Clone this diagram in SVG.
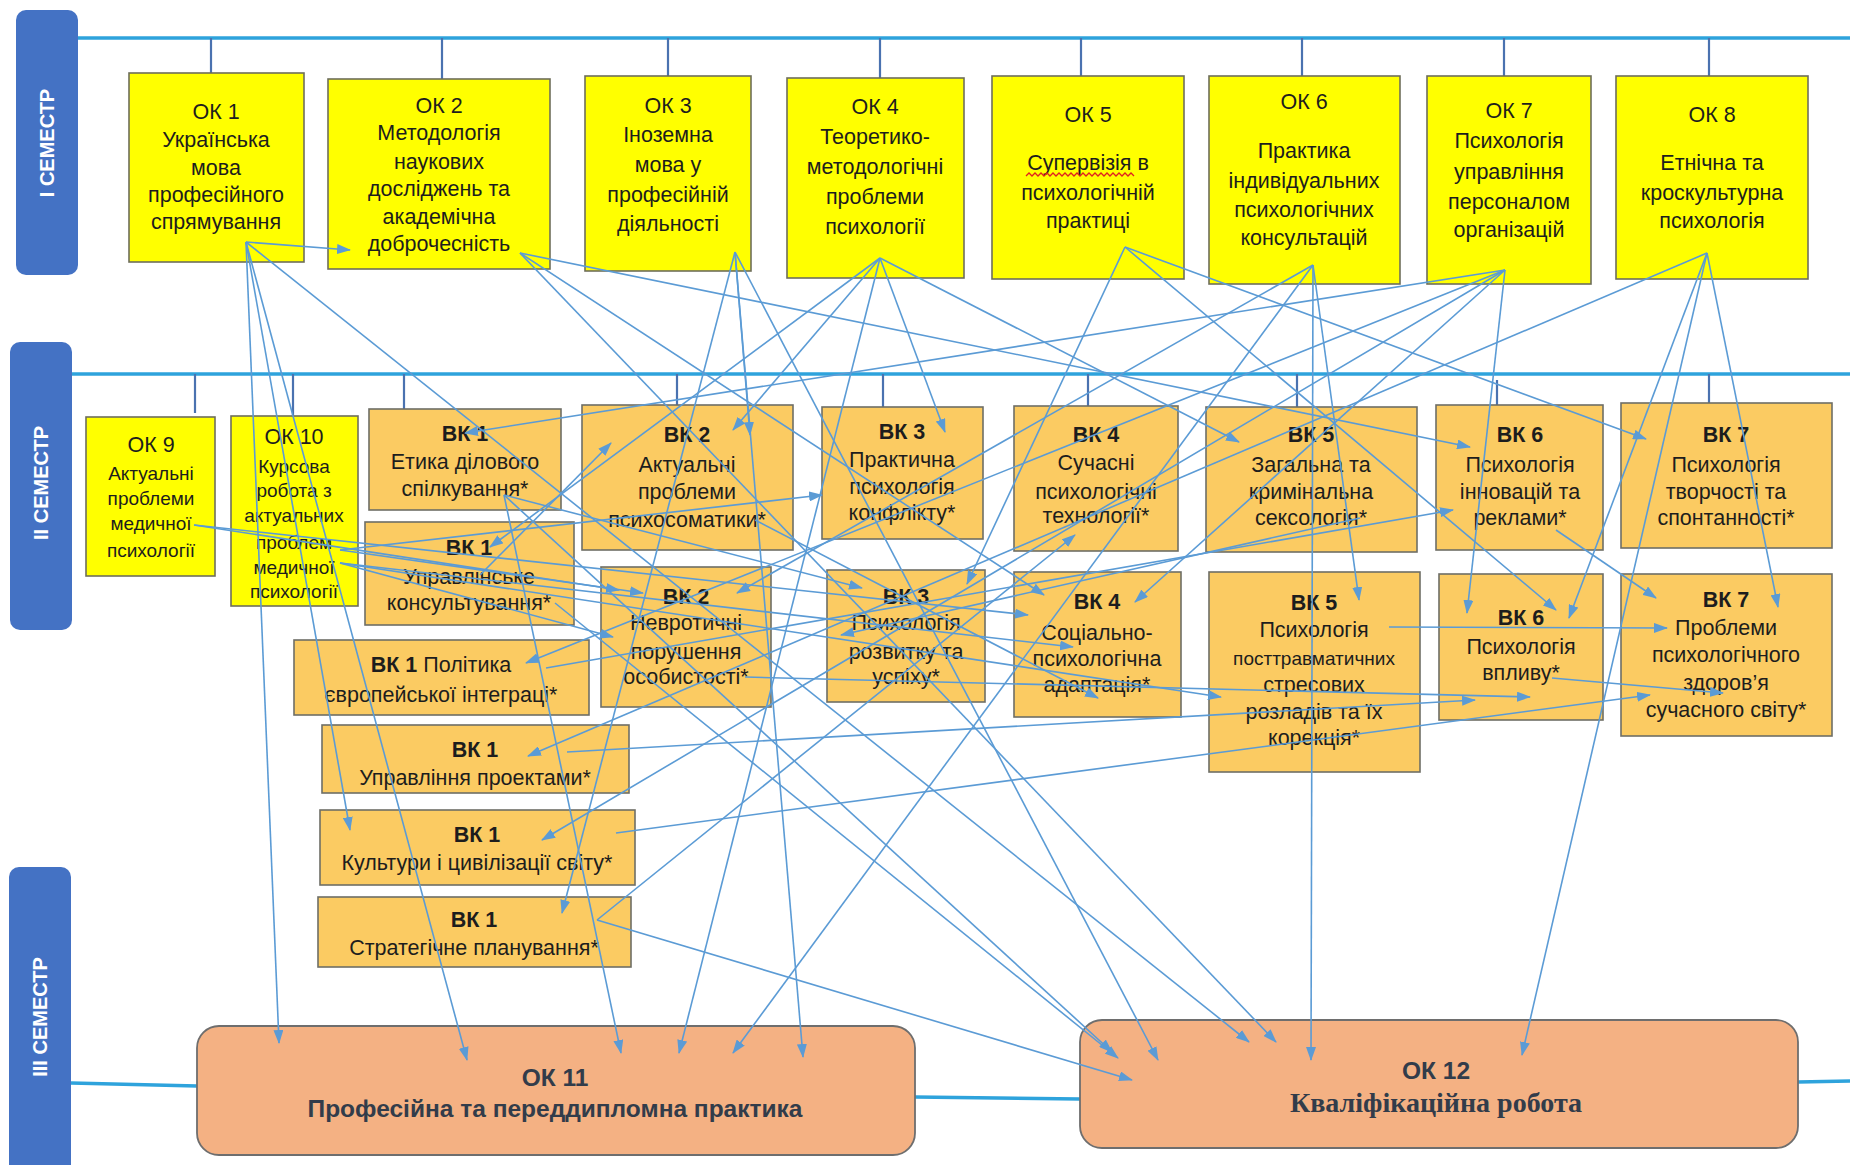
<svg xmlns="http://www.w3.org/2000/svg" width="1850" height="1165" viewBox="0 0 1850 1165">
<defs>
<marker id="ah" markerUnits="userSpaceOnUse" markerWidth="14" markerHeight="10" refX="13" refY="5" orient="auto"><path d="M0,0 L14,5 L0,10 z" fill="#5B9BD5"/></marker>
</defs>
<style>
.sem{fill:#4472C4}
.semt{fill:#fff;font:bold 20px "Liberation Sans",Arial,sans-serif;text-anchor:middle;dominant-baseline:central}
.band{stroke:#2EA3DC;stroke-width:3.5;fill:none}
.tick{stroke:#4A72B0;stroke-width:2.2}
.ok{fill:#FFFF00;stroke:#6E6E5A;stroke-width:1.6}
.vk{fill:#FBCB62;stroke:#6E6E66;stroke-width:1.6}
.fin{fill:#F4B183;stroke:#6E6E6E;stroke-width:1.8}
text{font-family:"Liberation Sans",Arial,sans-serif;fill:#1d1d1d;text-anchor:middle;dominant-baseline:central}
.t{font-size:21.5px}
.s{font-size:19px}
.b{font-weight:bold}
.conn line{stroke:#5B9BD5;stroke-width:1.6;marker-end:url(#ah)}
.fint{font-size:24.5px;font-weight:bold;fill:#323c4a}
.sf{font-family:"Liberation Serif","Times New Roman",serif;font-size:28px;font-weight:bold;fill:#323c4a}
</style>
<rect width="1850" height="1165" fill="#fff"/>

<g id="semesters">
<rect class="sem" x="16" y="10" width="62" height="265" rx="10"/>
<text class="semt" transform="translate(47,143) rotate(-90)">I СЕМЕСТР</text>
<rect class="sem" x="10" y="342" width="62" height="288" rx="10"/>
<text class="semt" transform="translate(41,483) rotate(-90)">II СЕМЕСТР</text>
<rect class="sem" x="9" y="867" width="62" height="320" rx="10"/>
<text class="semt" transform="translate(40,1017) rotate(-90)">III СЕМЕСТР</text>
<line class="band" x1="78" y1="38" x2="1850" y2="38"/>
<line class="band" x1="72" y1="374" x2="1850" y2="374"/>
<line class="band" x1="71" y1="1083" x2="197" y2="1086"/>
<line class="band" x1="915" y1="1097" x2="1080" y2="1099"/>
<line class="band" x1="1798" y1="1082" x2="1850" y2="1081"/>
<line class="tick" x1="211" y1="38" x2="211" y2="73"/>
<line class="tick" x1="442" y1="38" x2="442" y2="79"/>
<line class="tick" x1="668" y1="38" x2="668" y2="76"/>
<line class="tick" x1="880" y1="38" x2="880" y2="78"/>
<line class="tick" x1="1081" y1="38" x2="1081" y2="76"/>
<line class="tick" x1="1302" y1="38" x2="1302" y2="76"/>
<line class="tick" x1="1504" y1="38" x2="1504" y2="76"/>
<line class="tick" x1="1709" y1="38" x2="1709" y2="76"/>
<line class="tick" x1="195" y1="374" x2="195" y2="413"/>
<line class="tick" x1="293" y1="374" x2="293" y2="416"/>
<line class="tick" x1="404" y1="374" x2="404" y2="409"/>
<line class="tick" x1="677" y1="374" x2="677" y2="405"/>
<line class="tick" x1="883" y1="374" x2="883" y2="407"/>
<line class="tick" x1="1088" y1="374" x2="1088" y2="406"/>
<line class="tick" x1="1297" y1="374" x2="1297" y2="407"/>
<line class="tick" x1="1497" y1="380" x2="1497" y2="405"/>
<line class="tick" x1="1709" y1="374" x2="1709" y2="403"/>
</g>

<g id="ok1"><rect class="ok" x="129" y="73" width="175" height="189"/>
<text class="t" x="216" y="112">ОК 1</text><text class="t" x="216" y="140">Українська</text><text class="t" x="216" y="168">мова</text><text class="t" x="216" y="195">професійного</text><text class="t" x="216" y="222">спрямування</text></g>
<g id="ok2"><rect class="ok" x="328" y="79" width="222" height="190"/>
<text class="t" x="439" y="106">ОК 2</text><text class="t" x="439" y="133">Методологія</text><text class="t" x="439" y="162">наукових</text><text class="t" x="439" y="189">досліджень та</text><text class="t" x="439" y="217">академічна</text><text class="t" x="439" y="244">доброчесність</text></g>
<g id="ok3"><rect class="ok" x="585" y="76" width="166" height="195"/>
<text class="t" x="668" y="106">ОК 3</text><text class="t" x="668" y="135">Іноземна</text><text class="t" x="668" y="165">мова у</text><text class="t" x="668" y="195">професійній</text><text class="t" x="668" y="224">діяльності</text></g>
<g id="ok4"><rect class="ok" x="787" y="78" width="177" height="200"/>
<text class="t" x="875" y="107">ОК 4</text><text class="t" x="875" y="137">Теоретико-</text><text class="t" x="875" y="167">методологічні</text><text class="t" x="875" y="197">проблеми</text><text class="t" x="875" y="227">психології</text></g>
<g id="ok5"><rect class="ok" x="992" y="76" width="192" height="203"/>
<text class="t" x="1088" y="115">ОК 5</text><text class="t" x="1088" y="163">Супервізія в</text><text class="t" x="1088" y="193">психологічній</text><text class="t" x="1088" y="221">практиці</text>
<path d="M1026,176 l3,-3 l3,3 l3,-3 l3,3 l3,-3 l3,3 l3,-3 l3,3 l3,-3 l3,3 l3,-3 l3,3 l3,-3 l3,3 l3,-3 l3,3 l3,-3 l3,3 l3,-3 l3,3 l3,-3 l3,3 l3,-3 l3,3 l3,-3 l3,3 l3,-3 l3,3 l3,-3 l3,3 l3,-3 l3,3 l3,-3 l3,3 l3,-3 l3,3" fill="none" stroke="#E02020" stroke-width="1.3"/></g>
<g id="ok6"><rect class="ok" x="1209" y="76" width="191" height="208"/>
<text class="t" x="1304" y="102">ОК 6</text><text class="t" x="1304" y="151">Практика</text><text class="t" x="1304" y="181">індивідуальних</text><text class="t" x="1304" y="210">психологічних</text><text class="t" x="1304" y="238">консультацій</text></g>
<g id="ok7"><rect class="ok" x="1427" y="76" width="164" height="208"/>
<text class="t" x="1509" y="111">ОК 7</text><text class="t" x="1509" y="141">Психологія</text><text class="t" x="1509" y="172">управління</text><text class="t" x="1509" y="202">персоналом</text><text class="t" x="1509" y="230">організацій</text></g>
<g id="ok8"><rect class="ok" x="1616" y="76" width="192" height="203"/>
<text class="t" x="1712" y="115">ОК 8</text><text class="t" x="1712" y="163">Етнічна та</text><text class="t" x="1712" y="193">кроскультурна</text><text class="t" x="1712" y="221">психологія</text></g>

<g id="ok9"><rect class="ok" x="86" y="417" width="129" height="159"/>
<text class="t" x="151" y="445">ОК 9</text><text class="s" x="151" y="473">Актуальні</text><text class="s" x="151" y="498">проблеми</text><text class="s" x="151" y="523">медичної</text><text class="s" x="151" y="550">психології</text></g>
<g id="ok10"><rect class="ok" x="231" y="416" width="127" height="190"/>
<text class="t" x="294" y="437">ОК 10</text><text class="s" x="294" y="466">Курсова</text><text class="s" x="294" y="490">робота з</text><text class="s" x="294" y="515">актуальних</text><text class="s" x="294" y="542">проблем</text><text class="s" x="294" y="567">медичної</text><text class="s" x="294" y="591">психології</text></g>

<g id="vk1-etyka"><rect class="vk" x="369" y="409" width="192" height="101"/>
<text class="t b" x="465" y="434">ВК 1</text><text class="t" x="465" y="462">Етика ділового</text><text class="t" x="465" y="489">спілкування*</text></g>
<g id="vk1-upr-kons"><rect class="vk" x="365" y="522" width="209" height="103"/>
<text class="t b" x="469" y="548">ВК 1</text><text class="t" x="469" y="577">Управлінське</text><text class="t" x="469" y="603">консультування*</text></g>
<g id="vk1-polityka"><rect class="vk" x="294" y="640" width="295" height="75"/>
<text class="t" x="441" y="665"><tspan class="b">ВК 1</tspan> Політика</text><text class="t" x="441" y="695">європейської інтеграці*</text></g>
<g id="vk1-proekty"><rect class="vk" x="322" y="725" width="307" height="68"/>
<text class="t b" x="475" y="750">ВК 1</text><text class="t" x="475" y="778">Управління проектами*</text></g>
<g id="vk1-kultury"><rect class="vk" x="320" y="810" width="315" height="75"/>
<text class="t b" x="477" y="835">ВК 1</text><text class="t" x="477" y="863">Культури і цивілізації світу*</text></g>
<g id="vk1-strat"><rect class="vk" x="318" y="897" width="313" height="70"/>
<text class="t b" x="474" y="920">ВК 1</text><text class="t" x="474" y="948">Стратегічне планування*</text></g>

<g id="vk2-psykhosom"><rect class="vk" x="582" y="405" width="211" height="145"/>
<text class="t b" x="687" y="435">ВК 2</text><text class="t" x="687" y="465">Актуальні</text><text class="t" x="687" y="492">проблеми</text><text class="t" x="687" y="520">психосоматики*</text></g>
<g id="vk3-konflikt"><rect class="vk" x="822" y="407" width="161" height="132"/>
<text class="t b" x="902" y="432">ВК 3</text><text class="t" x="902" y="460">Практична</text><text class="t" x="902" y="487">психологія</text><text class="t" x="902" y="513">конфлікту*</text></g>
<g id="vk4-tekhnol"><rect class="vk" x="1014" y="406" width="164" height="145"/>
<text class="t b" x="1096" y="435">ВК 4</text><text class="t" x="1096" y="463">Сучасні</text><text class="t" x="1096" y="492">психологічні</text><text class="t" x="1096" y="516">технології*</text></g>
<g id="vk5-seksol"><rect class="vk" x="1206" y="407" width="211" height="145"/>
<text class="t b" x="1311" y="435">ВК 5</text><text class="t" x="1311" y="465">Загальна та</text><text class="t" x="1311" y="492">кримінальна</text><text class="t" x="1311" y="518">сексологія*</text></g>
<g id="vk6-innov"><rect class="vk" x="1436" y="405" width="167" height="145"/>
<text class="t b" x="1520" y="435">ВК 6</text><text class="t" x="1520" y="465">Психологія</text><text class="t" x="1520" y="492">інновацій та</text><text class="t" x="1520" y="518">реклами*</text></g>
<g id="vk7-tvorch"><rect class="vk" x="1621" y="403" width="211" height="145"/>
<text class="t b" x="1726" y="435">ВК 7</text><text class="t" x="1726" y="465">Психологія</text><text class="t" x="1726" y="492">творчості та</text><text class="t" x="1726" y="518">спонтанності*</text></g>

<g id="vk2-nevrot"><rect class="vk" x="601" y="567" width="170" height="140"/>
<text class="t b" x="686" y="597">ВК 2</text><text class="t" x="686" y="623">Невротичні</text><text class="t" x="686" y="652">порушення</text><text class="t" x="686" y="677">особистості*</text></g>
<g id="vk3-rozvytok"><rect class="vk" x="827" y="570" width="158" height="132"/>
<text class="t b" x="906" y="597">ВК 3</text><text class="t" x="906" y="623">Психологія</text><text class="t" x="906" y="652">розвитку та</text><text class="t" x="906" y="677">успіху*</text></g>
<g id="vk4-adapt"><rect class="vk" x="1014" y="572" width="167" height="145"/>
<text class="t b" x="1097" y="602">ВК 4</text><text class="t" x="1097" y="633">Соціально-</text><text class="t" x="1097" y="659">психологічна</text><text class="t" x="1097" y="685">адаптація*</text></g>
<g id="vk5-posttr"><rect class="vk" x="1209" y="572" width="211" height="200"/>
<text class="t b" x="1314" y="603">ВК 5</text><text class="t" x="1314" y="630">Психологія</text><text x="1314" y="658" font-size="19px">посттравматичних</text><text class="t" x="1314" y="685">стресових</text><text class="t" x="1314" y="712">розладів та їх</text><text class="t" x="1314" y="738">корекція*</text></g>
<g id="vk6-vplyv"><rect class="vk" x="1439" y="574" width="164" height="146"/>
<text class="t b" x="1521" y="618">ВК 6</text><text class="t" x="1521" y="647">Психологія</text><text class="t" x="1521" y="673">впливу*</text></g>
<g id="vk7-zdorov"><rect class="vk" x="1621" y="574" width="211" height="162"/>
<text class="t b" x="1726" y="600">ВК 7</text><text class="t" x="1726" y="628">Проблеми</text><text class="t" x="1726" y="655">психологічного</text><text class="t" x="1726" y="683">здоров’я</text><text class="t" x="1726" y="710">сучасного світу*</text></g>

<g id="ok11"><rect class="fin" x="197" y="1026" width="718" height="129" rx="22"/>
<text class="fint" x="555" y="1077">ОК 11</text><text class="fint" x="555" y="1108">Професійна та переддипломна практика</text></g>
<g id="ok12"><rect class="fin" x="1080" y="1020" width="718" height="128" rx="22"/>
<text class="fint" x="1436" y="1070">ОК 12</text><text class="sf" x="1436" y="1102">Кваліфікаційна робота</text></g>

<g id="connectors" class="conn">
<line x1="246" y1="242" x2="350" y2="250"/>
<line x1="246" y1="242" x2="279" y2="1043"/>
<line x1="246" y1="242" x2="467" y2="1060"/>
<line x1="246" y1="242" x2="350" y2="830"/>
<line x1="246" y1="242" x2="1249" y2="1042"/>
<line x1="520" y1="253" x2="1470" y2="447"/>
<line x1="520" y1="253" x2="1276" y2="1042"/>
<line x1="520" y1="253" x2="1044" y2="595"/>
<line x1="735" y1="252" x2="750" y2="435"/>
<line x1="735" y1="252" x2="803" y2="1057"/>
<line x1="735" y1="252" x2="1158" y2="1060"/>
<line x1="735" y1="252" x2="562" y2="913"/>
<line x1="880" y1="258" x2="733" y2="430"/>
<line x1="880" y1="258" x2="490" y2="547"/>
<line x1="880" y1="258" x2="945" y2="432"/>
<line x1="880" y1="258" x2="1239" y2="442"/>
<line x1="880" y1="258" x2="679" y2="1053"/>
<line x1="1125" y1="247" x2="1646" y2="439"/>
<line x1="1125" y1="247" x2="967" y2="584"/>
<line x1="1125" y1="247" x2="1556" y2="610"/>
<line x1="1313" y1="265" x2="1359" y2="600"/>
<line x1="1313" y1="265" x2="1311" y2="1060"/>
<line x1="1313" y1="265" x2="733" y2="1053"/>
<line x1="1313" y1="265" x2="737" y2="593"/>
<line x1="1505" y1="270" x2="465" y2="433"/>
<line x1="1505" y1="270" x2="526" y2="663"/>
<line x1="1505" y1="270" x2="1467" y2="613"/>
<line x1="1505" y1="270" x2="542" y2="840"/>
<line x1="1505" y1="270" x2="1135" y2="602"/>
<line x1="1707" y1="253" x2="528" y2="756"/>
<line x1="1707" y1="253" x2="1522" y2="1055"/>
<line x1="1707" y1="253" x2="1778" y2="607"/>
<line x1="1707" y1="253" x2="1569" y2="618"/>
<line x1="194" y1="525" x2="619" y2="590"/>
<line x1="194" y1="525" x2="1028" y2="615"/>
<line x1="340" y1="550" x2="643" y2="593"/>
<line x1="340" y1="563" x2="613" y2="637"/>
<line x1="340" y1="550" x2="822" y2="495"/>
<line x1="340" y1="563" x2="1073" y2="647"/>
<line x1="340" y1="563" x2="1221" y2="697"/>
<line x1="504" y1="495" x2="621" y2="1053"/>
<line x1="504" y1="495" x2="1112" y2="1052"/>
<line x1="504" y1="495" x2="862" y2="588"/>
<line x1="555" y1="603" x2="1118" y2="1058"/>
<line x1="480" y1="575" x2="611" y2="443"/>
<line x1="546" y1="668" x2="1453" y2="510"/>
<line x1="567" y1="752" x2="1475" y2="700"/>
<line x1="616" y1="833" x2="1650" y2="695"/>
<line x1="597" y1="920" x2="1075" y2="535"/>
<line x1="597" y1="920" x2="1132" y2="1080"/>
<line x1="755" y1="520" x2="1098" y2="698"/>
<line x1="1360" y1="518" x2="841" y2="635"/>
<line x1="1556" y1="530" x2="1656" y2="598"/>
<line x1="1389" y1="627" x2="1667" y2="628"/>
<line x1="1552" y1="678" x2="1723" y2="693"/>
<line x1="745" y1="677" x2="1530" y2="697"/>
</g>
</svg>
